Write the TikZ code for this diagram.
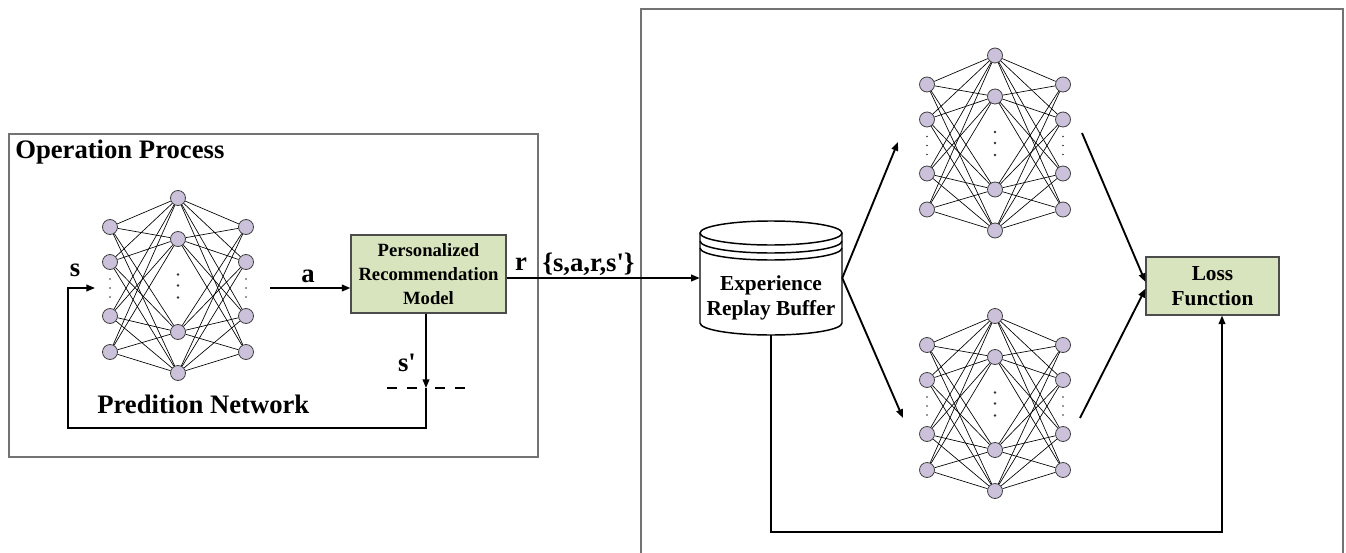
\documentclass[tikz,border=0pt]{standalone}
\usepackage{fontspec}
\setmainfont{Liberation Serif}
\usetikzlibrary{arrows.meta}

\definecolor{neuronfill}{RGB}{204,193,218}
\definecolor{boxfill}{RGB}{215,228,189}
\definecolor{framegray}{RGB}{115,115,115}

\tikzset{
  framebox/.style={draw=framegray, line width=1pt},
  neuron/.style={circle, draw=black!75, fill=neuronfill, line width=0.6pt,
    minimum size=11.25pt, inner sep=0pt},
  synapse/.style={draw=black, line width=0.5pt},
  dotcol/.style={fill=black!80},
  conn/.style={draw=black, line width=1.4pt},
  dashline/.style={draw=black, line width=1.2pt, dash pattern=on 7.5pt off 7.5pt},
  greenbox/.style={draw=black!70, fill=boxfill, line width=0.8pt, align=center,
    inner sep=0pt},
  cyl/.style={draw=black, line width=1.1pt},
  lbl/.style={font=\fontsize{20}{24}\selectfont\bfseries, inner sep=0pt},
  heading/.style={font=\fontsize{20}{24}\selectfont\bfseries, inner sep=0pt},
}

% fully connected 4-4-4 network: name, centre x, centre y
\newcommand{\neuralnet}[3]{%
  \foreach \k/\dy in {1/-58.5,2/-23.5,3/30.5,4/66.5}{%
    \node[neuron] (#1a\k) at ({#2-68},{#3+\dy}) {};
    \node[neuron] (#1c\k) at ({#2+68},{#3+\dy}) {};
  }
  \foreach \k/\dy in {1/-87.5,2/-46.5,3/46.5,4/87.5}{%
    \node[neuron] (#1b\k) at (#2,{#3+\dy}) {};
  }
  \foreach \k in {1,...,4}{\foreach \m in {1,...,4}{%
    \draw[synapse] (#1a\k) -- (#1b\m);
    \draw[synapse] (#1b\m) -- (#1c\k);
  }}
  \foreach \dy in {-9,0,9}{%
    \fill[dotcol] ({#2-68},{#3+2.5+\dy}) circle[radius=0.6pt];
    \fill[dotcol] ({#2+68},{#3+2.5+\dy}) circle[radius=0.6pt];
  }
  \foreach \dy in {-11,0,12}{%
    \fill[dotcol] (#2,{#3+\dy}) circle[radius=1pt];
  }
}

\begin{document}
\begin{tikzpicture}[x=0.75pt, y=-0.75pt, font=\bfseries,
  >={Triangle[length=6.5pt,width=5pt]}]
\clip (0,0) rectangle (1346,553);

% outer frames
\draw[framebox] (9,134) rectangle (538,457);
\draw[framebox] (641,9) rectangle (1343,580);

\node[heading, anchor=base west] (optitle) at (15,158) {Operation Process};
\node[heading, anchor=base west] (pntitle) at (97,413) {Predition Network};

% networks
\neuralnet{P}{178}{285.5}
\neuralnet{U}{995}{143}
\neuralnet{D}{995}{403.5}

% model and loss boxes
\node[greenbox, minimum width=116.25pt, minimum height=58.5pt,
  font=\fontsize{14}{18}\selectfont\bfseries] (prm) at (428.5,274)
  {Personalized\\Recommendation\\Model};
\node[greenbox, minimum width=99.75pt, minimum height=43.5pt,
  font=\fontsize{16}{18.75}\selectfont\bfseries] (loss) at (1212.5,286)
  {Loss\\Function};

% experience replay buffer (cylinder)
\node[minimum width=106.5pt, minimum height=85.5pt, inner sep=0pt] (buf) at (771,278) {};
\draw[cyl] (700,233) -- (700,323)
  arc[start angle=180, end angle=360, x radius=53.25pt, y radius=9pt] -- (842,233);
\draw[cyl] (771,233) ellipse[x radius=53.25pt, y radius=9pt];
\draw[cyl] (700,241) arc[start angle=180, end angle=360, x radius=53.25pt, y radius=9pt];
\draw[cyl] (700,248) arc[start angle=180, end angle=360, x radius=53.25pt, y radius=9pt];
\node[align=center, inner sep=0pt, font=\fontsize{16}{18.75}\selectfont\bfseries]
  (buftxt) at (771,298) {Experience\\Replay Buffer};

% labels
\node[lbl] (slab) at (75,270) {s};
\node[lbl] (alab) at (308,276) {a};
\node[lbl] (splab) at (407,363) {s\textquotesingle};
\node[lbl] (rlab) at (521,264) {r};
\node[lbl] (tuplab) at (588.5,264) {\{s,a,r,s\textquotesingle\}};

% operation loop
\coordinate (aout) at (270,288);
\draw[conn,->] (aout) -- (aout -| prm.west);
\draw[conn,->] (prm.east |- buf.west) -- (buf.west);
\coordinate (sdash) at (426,388);
\draw[conn,->] (sdash |- prm.south) -- (sdash);
\coordinate (loopc) at (68,428);
\coordinate (sin) at (95,288);
\draw[conn,->] (sdash) |- (loopc) |- (sin);
\draw[dashline] (387,388) -- (417,388) (435,388) -- (465,388);

% training side
\coordinate (uin) at (898,142);
\coordinate (din) at (903,418);
\draw[conn,->] (buf.east) -- (uin);
\draw[conn,->] (buf.east) -- (din);
\coordinate (uout) at (1082,133);
\coordinate (dout) at (1080,418);
\draw[conn,->] (uout) -- ([yshift=3pt]loss.west);
\draw[conn,->] (dout) -- ([yshift=-2pt]loss.west);
\coordinate (fb) at (1222,532);
\draw[conn,->] (buf.south) |- (fb) -- (fb |- loss.south);
\end{tikzpicture}
\end{document}
